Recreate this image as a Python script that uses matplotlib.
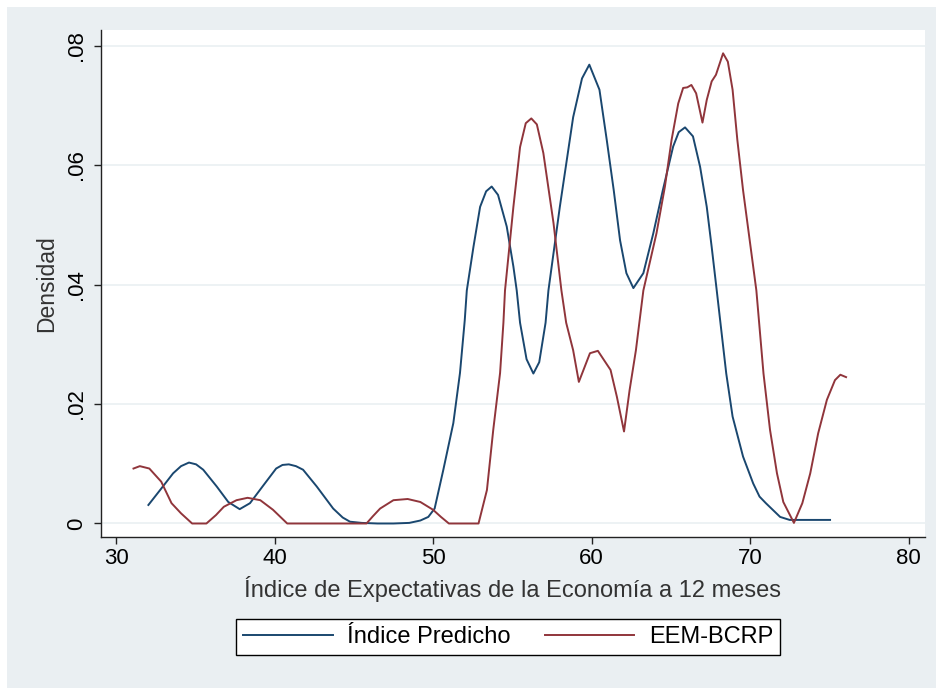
import numpy as np
import matplotlib.pyplot as plt
import matplotlib.patches as mpatches

# Kernel density curves
x_pred = [32.04, 32.78, 33.6, 34.1, 34.6, 35.05, 35.5, 36.35, 37.08, 37.8, 38.45, 39.3, 40.1, 40.5,
          40.9, 41.35, 41.8, 42.66, 43.7, 44.3, 44.76, 45.5, 46.5, 47.5, 48.5, 49.2, 49.7, 50.1,
          50.65, 51.28, 51.7, 52.0, 52.13, 52.55, 52.97, 53.35, 53.7, 54.1, 54.65, 55.07, 55.28,
          55.49, 55.9, 56.33, 56.7, 57.1, 57.28, 58.0, 58.84, 59.4, 59.86, 60.5, 60.96, 61.4, 61.8,
          62.2, 62.64, 63.27, 63.9, 64.5, 65.15, 65.5, 65.9, 66.4, 66.85, 67.27, 67.58, 67.9, 68.5,
          68.9, 69.56, 70.2, 70.6, 71.0, 71.9, 72.5, 73.5, 75.05]
y_pred = [0.0031, 0.0056, 0.0084, 0.0096, 0.0102, 0.0099, 0.0090, 0.0062, 0.0036, 0.0024, 0.0034,
          0.0064, 0.0092, 0.0098, 0.0099, 0.0096, 0.0090, 0.0062, 0.0025, 0.0010, 0.0003, 0.0001,
          0.0, 0.0, 0.0001, 0.0005, 0.0011, 0.0025, 0.0090, 0.0168, 0.0252, 0.0340, 0.0390, 0.0463,
          0.0530, 0.0556, 0.0564, 0.0550, 0.0497, 0.0430, 0.0390, 0.0336, 0.0275, 0.0251, 0.0270,
          0.0336, 0.0390, 0.0530, 0.0680, 0.0745, 0.0768, 0.0726, 0.0642, 0.0558, 0.0474, 0.0419,
          0.0394, 0.0419, 0.0486, 0.0558, 0.0631, 0.0655, 0.0663, 0.0648, 0.0597, 0.0530, 0.0463,
          0.0390, 0.0251, 0.0179, 0.0112, 0.0067, 0.0045, 0.0034, 0.0011, 0.0006, 0.0006, 0.0006]

x_eem = [31.1, 31.5, 32.1, 32.85, 33.5, 34.1, 34.8, 35.7, 36.3, 36.8, 37.6, 38.3, 39.1, 39.9, 40.8,
         45.8, 46.2, 46.66, 47.5, 48.4, 49.2, 50.0, 50.5, 51.0, 52.87, 53.4, 53.8, 54.23, 54.44, 54.54,
         55.07, 55.49, 55.85, 56.2, 56.55, 56.96, 57.6, 58.1, 58.4, 58.84, 59.2, 59.9, 60.4, 61.2,
         61.6, 62.05, 62.4, 62.8, 63.27, 64.1, 64.63, 65.05, 65.47, 65.78, 66.04, 66.3, 66.6, 67.0,
         67.27, 67.58, 67.85, 68.3, 68.6, 68.9, 69.2, 69.56, 69.98, 70.4, 70.85, 71.26, 71.7, 72.1,
         72.77, 73.3, 73.8, 74.3, 74.85, 75.36, 75.7, 76.06]
y_eem = [0.0092, 0.0096, 0.0092, 0.0070, 0.0034, 0.0017, 0.0, 0.0, 0.0014, 0.0028, 0.0039, 0.0043,
         0.0039, 0.0023, 0.0, 0.0, 0.0012, 0.0025, 0.0039, 0.0041, 0.0036, 0.0023, 0.0011, 0.0, 0.0,
         0.0056, 0.0157, 0.0252, 0.0336, 0.0390, 0.0530, 0.0630, 0.0670, 0.0678, 0.0668, 0.0620,
         0.0503, 0.0390, 0.0336, 0.0290, 0.0237, 0.0285, 0.0289, 0.0257, 0.0212, 0.0154, 0.0223,
         0.0290, 0.0390, 0.0486, 0.0564, 0.0642, 0.0703, 0.0729, 0.0730, 0.0734, 0.0720, 0.0671,
         0.0709, 0.0740, 0.0751, 0.0787, 0.0773, 0.0726, 0.0642, 0.0558, 0.0474, 0.0390, 0.0251,
         0.0157, 0.0084, 0.0036, 0.0001, 0.0034, 0.0084, 0.0151, 0.0207, 0.0240, 0.0249, 0.0245]

x_ticks = [30, 40, 50, 60, 70, 80]
y_ticks = [0, 0.02, 0.04, 0.06, 0.08]
y_ticklabels = ['0', '.02', '.04', '.06', '.08']

plt.rcParams['font.family'] = ['Liberation Sans', 'DejaVu Sans']

W, H = 936, 688
fig = plt.figure(figsize=(W / 100, H / 100), dpi=100, facecolor='white')
# grey graph region with a thin white border on the top/left
bg = mpatches.Rectangle((7 / W, 0), 1, 1 - 7 / H, transform=fig.transFigure,
                        facecolor='#eaeff2', edgecolor='none', zorder=-10)
fig.add_artist(bg)

ax = fig.add_axes([101 / W, (H - 537) / H, (925 - 101) / W, (537 - 30) / H])
ax.set_facecolor('white')

ax.plot(x_pred, y_pred, color='#1a476f', lw=1.4, label='Índice Predicho')
ax.plot(x_eem, y_eem, color='#90353b', lw=1.4, label='EEM-BCRP')

ax.set_xlim(29.05, 81.04)
ax.set_ylim(-0.00226, 0.0826)
ax.set_xticks(x_ticks)
ax.set_yticks(y_ticks)
ax.set_yticklabels(y_ticklabels, rotation=90, va='center')
ax.grid(axis='y', color='#eaf0f2', lw=1.2)
ax.set_axisbelow(True)

for s in ['top', 'right']:
    ax.spines[s].set_visible(False)
for s in ['left', 'bottom']:
    ax.spines[s].set_color('#222222')
    ax.spines[s].set_linewidth(1.0)
ax.tick_params(direction='out', length=5, width=1, color='#222222', labelsize=16, pad=3)
ax.tick_params(axis='y', pad=5)

ax.set_xlabel('Índice de Expectativas de la Economía a 12 meses', fontsize=17, color='#333333', labelpad=5)
ax.set_ylabel('Densidad', fontsize=16.5, color='#333333', labelpad=6)

fig.legend(loc='center', bbox_to_anchor=(508 / W, 1 - 637 / H), ncol=2, fontsize=17,
           frameon=True, fancybox=False, edgecolor='black', framealpha=1, handlelength=3.8,
           handletextpad=0.6, columnspacing=1.45, borderpad=0.3, borderaxespad=0)

fig.savefig('out.png', dpi=100, facecolor=fig.get_facecolor())
